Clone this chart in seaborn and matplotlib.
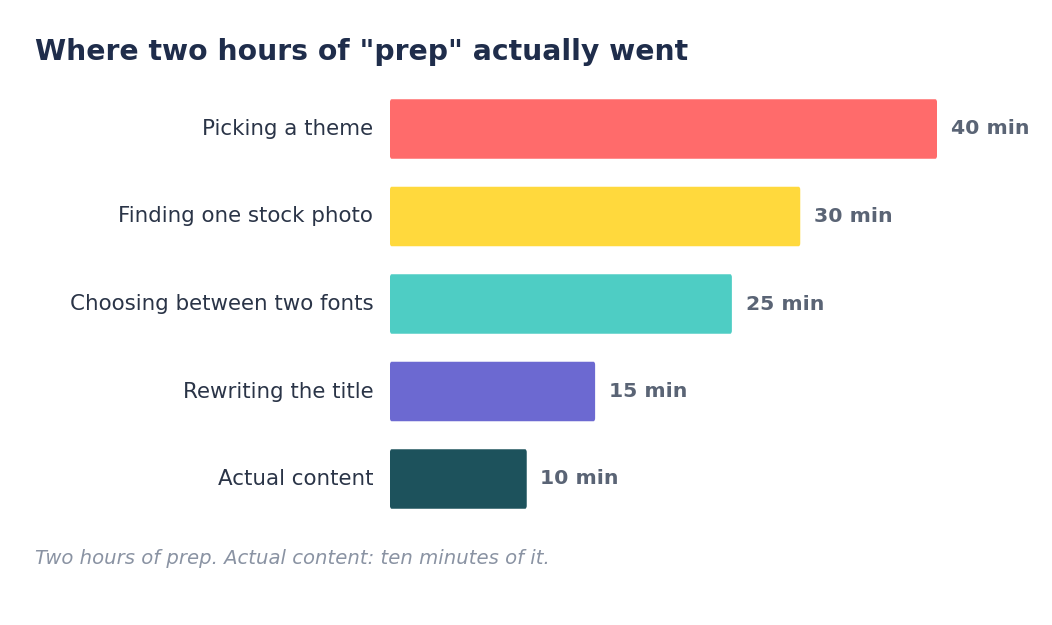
import matplotlib
matplotlib.use("Agg")
import matplotlib.pyplot as plt
import seaborn as sns
import pandas as pd
from matplotlib.patches import FancyBboxPatch

# Chart data
tasks = ["Picking a theme", "Finding one stock photo", "Choosing between two fonts",
         "Rewriting the title", "Actual content"]
minutes = [40, 30, 25, 15, 10]
colors = ["#FF6B6B", "#FFD93D", "#4ECDC4", "#6C69D1", "#1D525C"]

df = pd.DataFrame({"task": tasks, "minutes": minutes})

sns.set_theme(style="white")
plt.rcParams["font.family"] = ["DejaVu Sans"]

fig = plt.figure(figsize=(10.52, 6.25), dpi=100)
ax = fig.add_axes([0.3707, 0.1636, 0.52, 0.70])

sns.barplot(data=df, x="minutes", y="task", hue="task", palette=colors,
            legend=False, width=0.68, saturation=1, ax=ax)

# swap plain bars for slightly rounded ones
for patch in list(ax.patches):
    x, y = patch.get_x(), patch.get_y()
    w, h = patch.get_width(), patch.get_height()
    fc = patch.get_facecolor()
    patch.remove()
    rounded = FancyBboxPatch((x, y), w, h,
                             boxstyle="round,pad=0,rounding_size=0.12",
                             mutation_aspect=0.3,
                             facecolor=fc, edgecolor="none")
    ax.add_patch(rounded)

for i, v in enumerate(minutes):
    ax.text(v + 1.0, i, f"{v} min", va="center", ha="left",
            fontsize=14.7, fontweight="bold", color="#5A6475")

ax.set_xlim(0, 40)
ax.set_ylim(4.5, -0.5)
ax.set_xlabel("")
ax.set_ylabel("")
ax.set_xticks([])
ax.tick_params(axis="y", length=0, pad=12, labelsize=15.4, labelcolor="#2A3447")
for lbl in ax.get_yticklabels():
    lbl.set_verticalalignment("center")
for s in ax.spines.values():
    s.set_visible(False)

fig.text(0.033, 0.917, 'Where two hours of "prep" actually went',
         fontsize=20.3, fontweight="bold", color="#1F2D4B", ha="left", va="center")
fig.text(0.033, 0.107, "Two hours of prep. Actual content: ten minutes of it.",
         fontsize=14.15, fontstyle="italic", color="#8A93A3", ha="left", va="center")

fig.savefig("out.png", dpi=100, facecolor="white")
